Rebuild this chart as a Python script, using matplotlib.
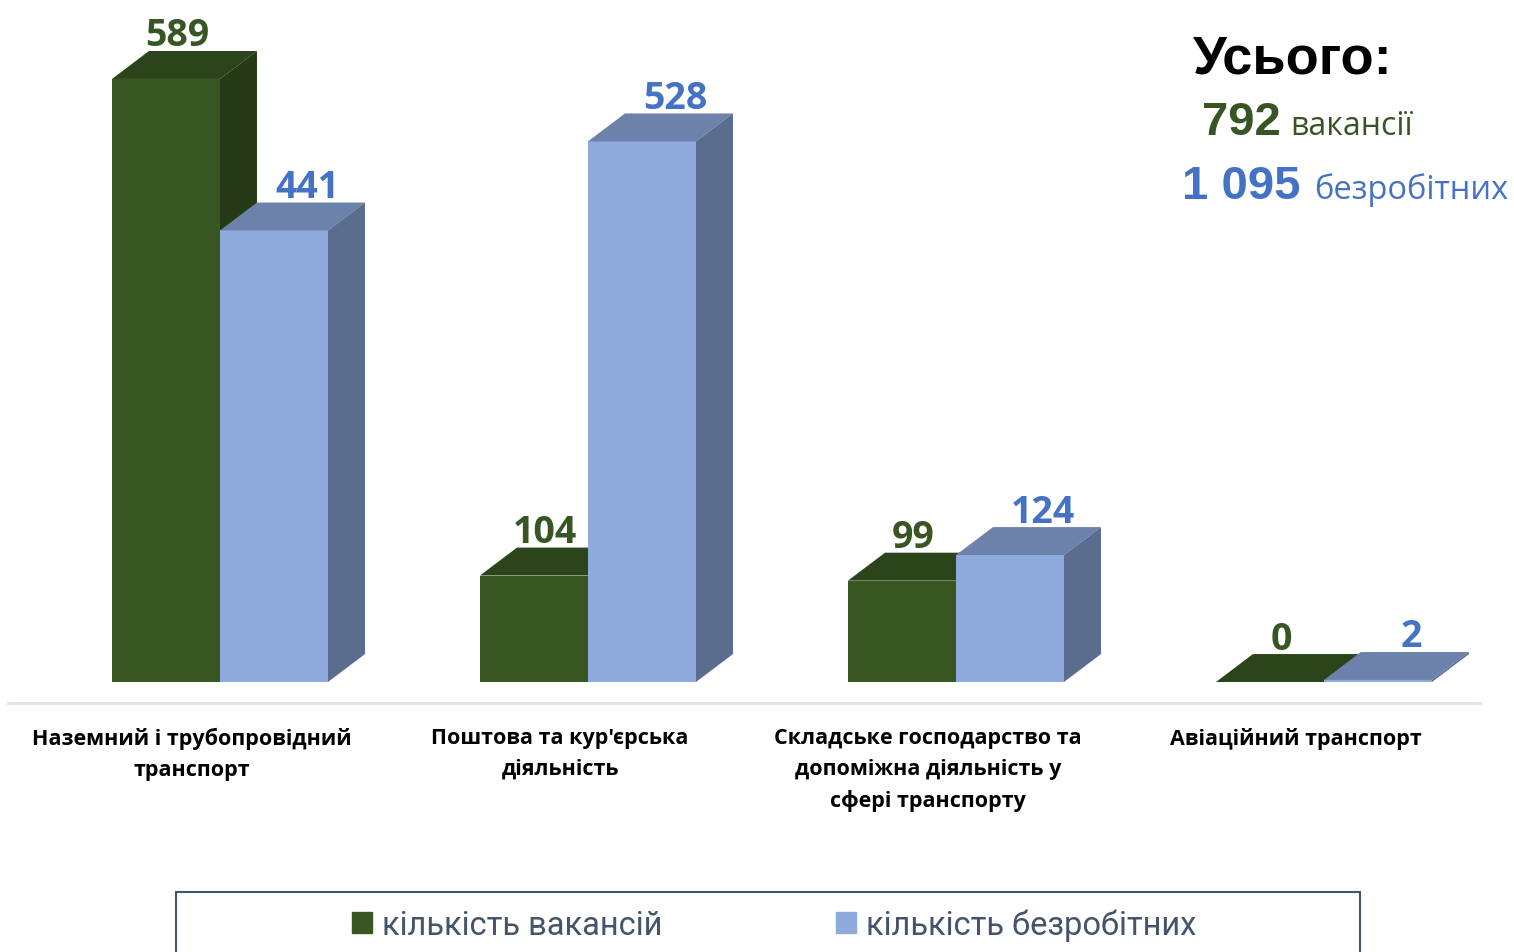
import numpy as np
import matplotlib.pyplot as plt
from matplotlib.patches import Polygon, Patch, Rectangle

# Data
categories = ['Наземний і трубопровідний\nтранспорт',
              'Поштова та кур\'єрська\nдіяльність',
              'Складське господарство та\nдопоміжна діяльність у\nсфері транспорту',
              'Авіаційний транспорт']
vacancies = [589, 104, 99, 0]
unemployed = [441, 528, 124, 2]
series_names = ['кількість вакансій', 'кількість безробітних']
total_title = 'Усього:'

# Colours: front, top, side, label
green = ('#385723', '#2B4419', '#253A16', '#375623')
blue = ('#8FAADC', '#6C82AA', '#5B6C8E', '#4472C4')

W, H = 1514, 953
fig = plt.figure(figsize=(W / 100, H / 100), dpi=100)
ax = fig.add_axes([8 / W, 1 - 704 / H, 1472 / W, 704 / H])
ax.set_xlim(-0.576, 3.424)
ax.set_ylim(-20.5, 667.1)

w = 108 / 368   # bar width
dx = 37 / 368   # depth, x units
dy = 27.3       # depth, value units

x = np.arange(len(categories))


def bar3d(x0, h, cols, z, lab_shift):
    ax.bar(x0, h, w, align='edge', color=cols[0], zorder=z, linewidth=0)
    top = [(x0, h), (x0 + dx, h + dy), (x0 + w + dx, h + dy), (x0 + w, h)]
    side = [(x0 + w, 0), (x0 + w + dx, dy), (x0 + w + dx, h + dy), (x0 + w, h)]
    ax.add_patch(Polygon(top, closed=True, color=cols[1], zorder=z, lw=0))
    ax.add_patch(Polygon(side, closed=True, color=cols[2], zorder=z, lw=0))
    ax.annotate(str(h), (x0 + w / 2 + lab_shift, h + dy), xytext=(0, 4),
                textcoords='offset points', ha='center', va='baseline',
                fontsize=27, fontweight='bold', color=cols[3],
                family=['Open Sans', 'DejaVu Sans'], zorder=10)


for i in range(len(categories)):
    bar3d(x[i] - w, vacancies[i], green, 2 + 2 * i, 0.03)
    bar3d(x[i], unemployed[i], blue, 3 + 2 * i, 0.09)

for s in ['top', 'right', 'left']:
    ax.spines[s].set_visible(False)
ax.spines['bottom'].set_color('#DDE2E9')
ax.spines['bottom'].set_linewidth(2)
ax.set_xticks([])
ax.set_yticks([])

# category labels
for i, lab in enumerate(categories):
    ax.text(x[i] - 0.076, -44, lab, ha='center', va='top', fontsize=15.5,
            fontweight='bold', color='black', linespacing=1.6,
            family=['Open Sans', 'DejaVu Sans'], clip_on=False)

# totals block
def fx(px):
    return px / W


def fy(py):
    return 1 - py / H


fig.text(fx(1193), fy(73), total_title, fontsize=39, fontweight='bold',
         color='black', family=['Liberation Sans', 'DejaVu Sans'], va='baseline')
fig.text(fx(1202), fy(135), str(sum(vacancies)), fontsize=34, fontweight='bold',
         color=green[3], family=['Liberation Sans', 'DejaVu Sans'], va='baseline')
fig.text(fx(1290), fy(135), 'вакансії', fontsize=23,
         color=green[3], family=['Open Sans', 'DejaVu Sans'], va='baseline')
tot_u = f'{sum(unemployed):,}'.replace(',', ' ')
fig.text(fx(1182), fy(199), tot_u, fontsize=34, fontweight='bold',
         color=blue[3], family=['Liberation Sans', 'DejaVu Sans'], va='baseline')
fig.text(fx(1314), fy(199), 'безробітних', fontsize=23.5,
         color=blue[3], family=['Open Sans', 'DejaVu Sans'], va='baseline')

# legend box
fig.patches.append(Rectangle((fx(176), fy(980)), (1360 - 176) / W, (980 - 893) / H,
                             transform=fig.transFigure, fill=False,
                             edgecolor='#44546A', lw=1.5))
handles = [Patch(color=green[0]), Patch(color=blue[0])]
fig.legend(handles, series_names, loc='center', ncol=2,
           bbox_to_anchor=(fx(774), fy(926)), frameon=False,
           prop={'family': ['Roboto', 'DejaVu Sans'], 'size': 23.5},
           labelcolor='#44546A', handlelength=0.62, handleheight=0.62,
           handletextpad=0.3, columnspacing=5.3)

fig.savefig('out.png', dpi=100)
